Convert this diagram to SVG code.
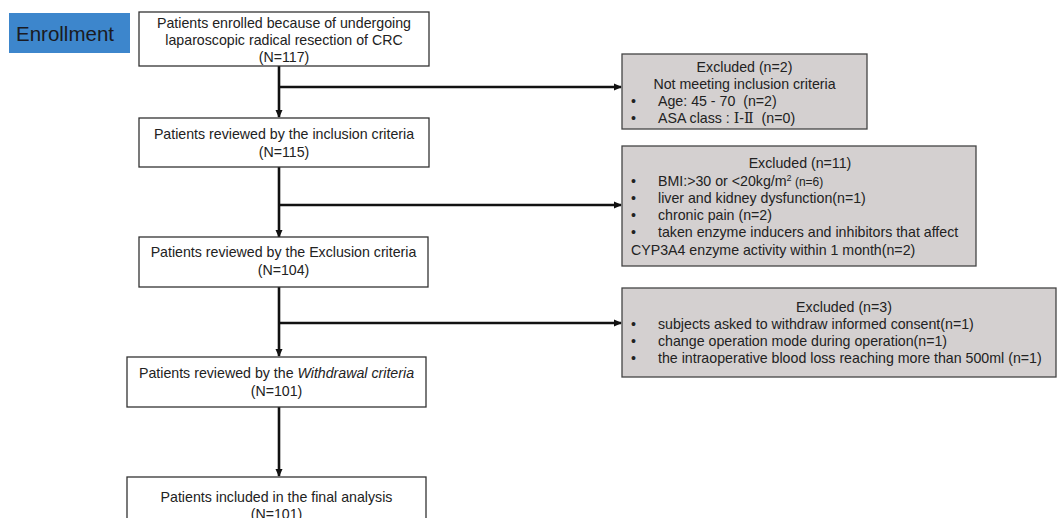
<svg xmlns="http://www.w3.org/2000/svg" width="1058" height="518" viewBox="0 0 1058 518">
<defs>
<marker id="ah" markerWidth="8" markerHeight="8" refX="7" refY="4" orient="auto" markerUnits="userSpaceOnUse">
<path d="M0,0.5 L8,4 L0,7.5 Z" fill="#111"/>
</marker>
<style>
.box{fill:#fff;stroke:#333;stroke-width:1.3}
.exc{fill:#d4d0d0;stroke:#444;stroke-width:1.3}
.t{font-family:"Liberation Sans",Arial,sans-serif;font-size:14.2px;fill:#222}
.c{text-anchor:middle}
.ln{stroke:#111;stroke-width:2.6;fill:none}
.rn{font-family:"DejaVu Serif","Liberation Serif","Noto Sans CJK SC",serif}
</style>
</defs>
<rect width="1058" height="518" fill="#fff"/>
<g id="enrollment">
<rect x="9" y="13" width="121" height="40" fill="#3d86cc"/>
<text x="65" y="41" text-anchor="middle" font-family="'Liberation Sans',Arial,sans-serif" font-size="20.5" fill="#1a1a22">Enrollment</text>
</g>
<g id="connectors">
<line class="ln" x1="279" y1="66" x2="279" y2="117" marker-end="url(#ah)"/>
<line class="ln" x1="279" y1="87" x2="621" y2="87" marker-end="url(#ah)"/>
<line class="ln" x1="279" y1="167" x2="279" y2="237" marker-end="url(#ah)"/>
<line class="ln" x1="279" y1="205" x2="621" y2="205" marker-end="url(#ah)"/>
<line class="ln" x1="279" y1="287" x2="279" y2="356" marker-end="url(#ah)"/>
<line class="ln" x1="279" y1="323" x2="621" y2="323" marker-end="url(#ah)"/>
<line class="ln" x1="279" y1="407" x2="279" y2="476" marker-end="url(#ah)"/>
</g>
<g id="n1">
<rect class="box" x="139" y="12" width="290" height="54"/>
<text class="t c" x="284" y="28">Patients enrolled because of undergoing</text>
<text class="t c" x="284" y="45">laparoscopic radical resection of CRC</text>
<text class="t c" x="284" y="62">(N=117)</text>
</g>
<g id="n2">
<rect class="box" x="139" y="118" width="290" height="49"/>
<text class="t c" x="284" y="139">Patients reviewed by the inclusion criteria</text>
<text class="t c" x="284" y="157">(N=115)</text>
</g>
<g id="n3">
<rect class="box" x="139" y="237" width="289" height="50"/>
<text class="t c" x="283.5" y="257">Patients reviewed by the Exclusion criteria</text>
<text class="t c" x="283.5" y="275">(N=104)</text>
</g>
<g id="n4">
<rect class="box" x="127" y="357" width="299" height="50"/>
<text class="t c" x="276.5" y="378">Patients reviewed by the <tspan font-style="italic">Withdrawal criteria</tspan></text>
<text class="t c" x="276.5" y="396">(N=101)</text>
</g>
<g id="n5">
<rect class="box" x="127" y="477" width="299" height="50"/>
<text class="t c" x="276.5" y="502">Patients included in the final analysis</text>
<text class="t c" x="276.5" y="519">(N=101)</text>
</g>
<g id="e1">
<rect class="exc" x="622" y="54" width="245" height="75"/>
<text class="t c" x="744.5" y="72">Excluded (n=2)</text>
<text class="t c" x="744.5" y="89">Not meeting inclusion criteria</text>
<text class="t" x="631" y="106">•</text>
<text class="t" x="658" y="106" xml:space="preserve">Age: 45 - 70  (n=2)</text>
<text class="t" x="631" y="123">•</text>
<text class="t" x="658" y="123" xml:space="preserve">ASA class : <tspan class="rn">Ⅰ</tspan>-<tspan class="rn">Ⅱ</tspan>  (n=0)</text>
</g>
<g id="e2">
<rect class="exc" x="622" y="146" width="354" height="120"/>
<text class="t c" x="800" y="168">Excluded (n=11)</text>
<text class="t" x="631" y="186">•</text>
<text class="t" x="658" y="186">BMI:&gt;30 or &lt;20kg/m<tspan font-size="9" dy="-5">2</tspan><tspan font-size="12" dy="5"> (n=6)</tspan></text>
<text class="t" x="631" y="203">•</text>
<text class="t" x="658" y="203">liver and kidney dysfunction(n=1)</text>
<text class="t" x="631" y="220">•</text>
<text class="t" x="658" y="220">chronic pain (n=2)</text>
<text class="t" x="631" y="237">•</text>
<text class="t" x="658" y="237">taken enzyme inducers and inhibitors that affect</text>
<text class="t" x="631" y="255">CYP3A4 enzyme activity within 1 month(n=2)</text>
</g>
<g id="e3">
<rect class="exc" x="622" y="288" width="434" height="89"/>
<text class="t c" x="844" y="312">Excluded (n=3)</text>
<text class="t" x="631" y="329">•</text>
<text class="t" x="658" y="329">subjects asked to withdraw informed consent(n=1)</text>
<text class="t" x="631" y="346">•</text>
<text class="t" x="658" y="346">change operation mode during operation(n=1)</text>
<text class="t" x="631" y="363">•</text>
<text class="t" x="658" y="363">the intraoperative blood loss reaching more than 500ml (n=1)</text>
</g>
</svg>
